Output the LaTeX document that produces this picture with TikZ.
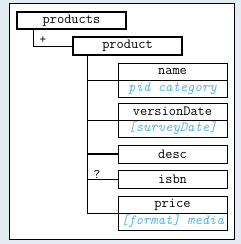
\documentclass[tikz,border=0pt]{standalone}
\usepackage{fontspec}
\definecolor{pagebg}{HTML}{E3ECF1}
\definecolor{attrblue}{HTML}{5BB4E6}
\tikzset{
  elem/.style={draw,line width=1pt,minimum width=109pt,minimum height=17pt,
    inner sep=0pt,font=\fontsize{14}{14}\selectfont\ttfamily},
  topelem/.style={elem,line width=1.4pt},
  attrs/.style={elem,font=\fontsize{14}{14}\selectfont\ttfamily\itshape,text=attrblue},
  link/.style={line width=1.6pt},
  occur/.style={font=\fontsize{13}{13}\selectfont\ttfamily,inner sep=0pt}
}
\begin{document}
\begin{tikzpicture}[x=1pt,y=-1pt]
    % page and frame
    \fill[pagebg] (0,0) rectangle (241,244);
    \useasboundingbox (0,0) rectangle (241,244);
    \draw[line width=1pt,fill=white] (9,3) rectangle (234,239);
    % root and its child
    \node[topelem] (products) at (71.5,20.5) {products};
    \node[topelem,minimum height=18pt] (product) at (127.5,46) {product};
    \draw[line width=1pt] (products.south west) ++(17,0) |- (product.west);
    \node[occur] (plus) at (43,40) {+};
    % children of product
    \node[elem] (name) at (172.5,71.5) {name};
    \node[attrs] (nameattr) at (172.5,88.5) {pid category};
    \node[elem] (version) at (172.5,111.5) {versionDate};
    \node[attrs] (versionattr) at (172.5,128.5) {[surveyDate]};
    \node[elem,minimum height=18pt] (desc) at (172.5,154) {desc};
    \node[elem,minimum height=18pt] (isbn) at (172.5,179.5) {isbn};
    \node[elem] (price) at (172.5,204.5) {price};
    \node[attrs] (priceattr) at (172.5,221.5) {[format] media};
    \node[occur] (opt) at (97,174) {?};
    % tree lines
    \coordinate (trunk) at ([xshift=15pt]product.south west);
    \draw[line width=1pt] (trunk) |- (price.south west);
    \draw[link] (trunk |- name.south west) -- (name.south west);
    \draw[link] (trunk |- version.south west) -- (version.south west);
    \draw[link] (trunk |- desc.west) -- (desc.west);
    \draw[link] (trunk |- isbn.west) -- (isbn.west);
\end{tikzpicture}
\end{document}
